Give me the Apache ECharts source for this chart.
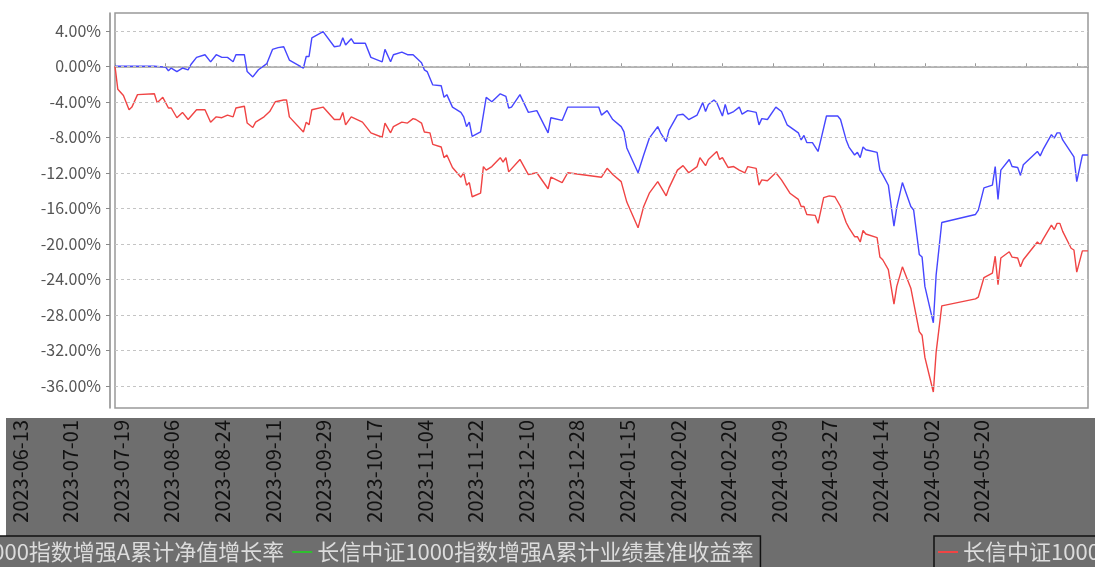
<!DOCTYPE html>
<html><head><meta charset="utf-8">
<script src="https://cdn.jsdelivr.net/npm/echarts@6/dist/echarts.min.js"></script>
<style>html,body{margin:0;padding:0;background:#fff}#c{width:1095px;height:567px}</style>
</head><body><div id="c"></div>
<script>
// ---- data ----
const startDate = [2023, 5, 13]; // 2023-06-13
const dayCount = 347;             // through 2024-05-24
const yTicks = [4, 0, -4, -8, -12, -16, -20, -24, -28, -32, -36];
const fundName = '长信中证1000指数增强A累计净值增长率';
const benchName = '长信中证1000指数增强A累计业绩基准收益率';
// [day offset from start, cumulative %]
const fundPoints = [[0,0],[14,0],[18,-0.1],[19,-0.5],[20,-0.2],[22,-0.6],[24,-0.2],[26,-0.4],[27,0.2],[29,1.0],[32,1.3],[34,0.5],[36,1.3],[38,1.0],[40,1.0],[42,0.5],[43,1.3],[46,1.3],[47,-0.6],[49,-1.2],[51,-0.4],[54,0.3],[56,1.9],[58,2.1],[60,2.2],[62,0.7],[67,-0.2],[68,1.1],[69,1.1],[70,3.2],[74,3.9],[78,2.2],[80,2.3],[81,3.2],[82,2.4],[84,3.1],[85,2.6],[89,2.6],[91,1.0],[95,0.5],[96,1.9],[98,0.5],[99,1.3],[102,1.6],[104,1.3],[106,1.3],[109,0.4],[110,-0.4],[111,-0.6],[113,-2.1],[116,-2.2],[117,-3.5],[118,-3.2],[120,-4.6],[123,-5.2],[124,-5.7],[125,-6.8],[126,-6.3],[127,-7.9],[130,-7.4],[132,-3.5],[134,-4.0],[137,-3.1],[139,-3.4],[140,-4.7],[141,-4.6],[144,-3.2],[147,-5.2],[150,-5.0],[154,-7.5],[155,-5.8],[159,-6.1],[161,-4.6],[172,-4.6],[173,-5.5],[175,-5.0],[177,-6.0],[180,-6.8],[181,-7.4],[182,-9.2],[186,-12.0],[188,-10.0],[190,-8.1],[193,-6.8],[194,-7.5],[196,-8.5],[197,-7.2],[200,-5.5],[202,-5.4],[204,-6.0],[207,-5.5],[209,-4.1],[210,-5.1],[211,-4.3],[213,-3.8],[214,-4.1],[216,-5.6],[217,-4.3],[218,-5.4],[220,-5.1],[222,-4.6],[223,-5.4],[225,-5.0],[228,-5.2],[229,-6.6],[230,-5.9],[232,-6.0],[235,-4.6],[237,-5.1],[239,-6.6],[243,-7.5],[244,-8.3],[245,-7.8],[246,-8.6],[248,-8.6],[250,-9.6],[251,-8.3],[253,-5.6],[257,-5.6],[258,-6.0],[260,-8.3],[261,-9.1],[263,-10.0],[264,-9.7],[265,-10.3],[266,-9.1],[267,-9.4],[271,-9.7],[272,-11.7],[273,-12.2],[275,-13.4],[277,-18.0],[278,-15.9],[280,-13.1],[283,-15.8],[284,-16.2],[286,-21.2],[287,-21.5],[288,-24.8],[291,-28.9],[292,-23.5],[294,-17.6],[306,-16.7],[307,-16.2],[309,-13.7],[312,-13.4],[313,-11.3],[314,-15.0],[315,-11.7],[318,-10.5],[319,-11.3],[321,-11.4],[322,-12.3],[323,-11.1],[328,-9.6],[329,-10.1],[330,-9.4],[333,-7.7],[334,-8.1],[335,-7.5],[336,-7.5],[337,-8.3],[341,-10.2],[342,-13.0],[344,-10.0],[346,-10.0]];
const benchPoints = [[0,0],[1,-2.6],[3,-3.3],[5,-4.9],[6,-4.6],[8,-3.2],[14,-3.1],[15,-4.1],[17,-3.5],[19,-4.7],[20,-4.7],[22,-5.8],[24,-5.2],[26,-6.0],[29,-4.9],[32,-4.9],[34,-6.3],[36,-5.7],[38,-5.8],[40,-5.5],[42,-5.7],[43,-4.7],[46,-4.5],[47,-6.4],[49,-6.9],[50,-6.3],[53,-5.7],[55,-5.1],[57,-4.0],[60,-3.8],[61,-3.8],[62,-5.7],[67,-7.4],[68,-6.3],[69,-6.6],[70,-4.9],[74,-4.6],[78,-6.0],[80,-6.0],[81,-5.2],[82,-6.6],[84,-5.7],[88,-6.3],[91,-7.5],[95,-8.0],[96,-6.4],[98,-7.5],[99,-6.8],[102,-6.3],[104,-6.4],[106,-5.9],[107,-6.0],[109,-6.4],[110,-7.4],[112,-7.5],[113,-8.8],[116,-9.1],[117,-10.3],[118,-10.0],[120,-11.4],[123,-12.5],[124,-12.0],[125,-13.4],[126,-13.1],[127,-14.7],[130,-14.3],[131,-11.3],[132,-11.7],[134,-11.3],[137,-10.3],[138,-10.8],[139,-10.3],[140,-11.9],[144,-10.5],[147,-12.2],[150,-12.0],[154,-13.8],[155,-12.5],[159,-13.1],[161,-12.0],[173,-12.5],[175,-11.5],[177,-12.2],[180,-13.0],[182,-15.3],[186,-18.2],[188,-15.8],[190,-14.3],[193,-13.0],[196,-14.6],[197,-13.7],[200,-11.7],[202,-11.2],[204,-12.0],[207,-11.3],[208,-10.3],[210,-11.2],[211,-10.5],[214,-9.6],[215,-10.5],[216,-10.3],[218,-11.4],[220,-11.3],[222,-11.7],[224,-12.0],[225,-11.3],[228,-11.5],[229,-13.4],[230,-12.8],[232,-12.9],[235,-12.0],[237,-12.8],[240,-14.3],[243,-15.0],[244,-15.8],[245,-15.8],[246,-16.7],[249,-16.8],[250,-17.7],[252,-14.8],[254,-14.6],[256,-14.7],[258,-15.8],[260,-17.6],[261,-18.2],[263,-19.2],[264,-19.2],[265,-19.8],[266,-18.5],[267,-18.9],[271,-19.3],[272,-21.5],[273,-21.8],[275,-22.9],[277,-26.8],[278,-24.8],[280,-22.6],[283,-25.0],[286,-29.9],[287,-30.3],[288,-32.8],[291,-36.7],[292,-32.2],[294,-27.0],[306,-26.2],[307,-26.0],[309,-23.8],[312,-23.3],[313,-21.4],[314,-24.6],[315,-21.6],[318,-20.9],[319,-21.5],[321,-21.6],[322,-22.6],[323,-21.8],[328,-19.8],[329,-20.1],[330,-19.5],[333,-17.9],[334,-18.4],[335,-17.7],[336,-17.7],[337,-18.6],[340,-20.5],[341,-20.7],[342,-23.2],[344,-20.8],[346,-20.8]];

// ---- build ----
const dates = [];
const t0 = Date.UTC(startDate[0], startDate[1], startDate[2]);
for (let i = 0; i < dayCount; i++) dates.push(new Date(t0 + i * 86400000).toISOString().slice(0, 10));
const toSeries = pts => pts.map(p => [dates[p[0]], p[1]]);

const chart = echarts.init(document.getElementById('c'), null, {renderer: 'canvas'});
const GRAY = '#6e6e6e';
const CJK = '"Noto Sans CJK SC", "Noto Sans", sans-serif';
chart.setOption({
  animation: false,
  backgroundColor: '#fff',
  graphic: [{type: 'rect', z: -10, shape: {x: 6, y: 418, width: 1089, height: 149}, style: {fill: GRAY}, silent: true}],
  grid: [
    {left: 115, right: 7, top: 13, bottom: 159, show: true, borderColor: '#999', borderWidth: 1.5},
    {left: 20, right: 102, top: 13, bottom: 159, show: false}
  ],
  legend: [
    {left: -138, top: 536, padding: [5, 7, 5, 5], itemGap: 8, itemWidth: 20, itemHeight: 2, icon: 'rect',
     backgroundColor: GRAY, borderColor: '#111', borderWidth: 1.5,
     textStyle: {color: '#dcdcdc', fontSize: 22, fontFamily: CJK},
     data: [{name: fundName}, {name: benchName, itemStyle: {color: '#2fbf2f'}}]},
    {left: 934, top: 536, padding: [5, 5, 5, 4], itemWidth: 20, itemHeight: 2, icon: 'rect',
     backgroundColor: GRAY, borderColor: '#111', borderWidth: 1.5,
     textStyle: {color: '#dcdcdc', fontSize: 22, fontFamily: CJK},
     data: [{name: benchName}]}
  ],
  xAxis: [
    {type: 'category', gridIndex: 0, data: dates, boundaryGap: false, offset: 7,
     axisLine: {lineStyle: {color: '#999', width: 1.5}},
     axisTick: {inside: true, length: 3, interval: 17, lineStyle: {color: '#999'}},
     axisLabel: {show: false}, splitLine: {show: false}},
    {type: 'category', gridIndex: 1, data: dates, boundaryGap: false, offset: 7,
     axisLine: {show: false}, axisTick: {show: false},
     axisLabel: {interval: 17, rotate: 90, margin: 5, color: '#111', fontSize: 20, fontFamily: CJK},
     splitLine: {show: false}}
  ],
  yAxis: [
    {type: 'value', gridIndex: 0, min: -38.5, max: 6, offset: 5,
     axisLine: {show: true, lineStyle: {color: '#888', width: 1.5}},
     axisTick: {show: true, length: 4, customValues: yTicks, lineStyle: {color: '#888'}},
     axisLabel: {customValues: yTicks, margin: 9, color: '#555', fontSize: 16, fontFamily: CJK,
       formatter: v => v.toFixed(2) + '%'},
     splitLine: {show: false}},
    {type: 'value', gridIndex: 1, min: -38.5, max: 6, show: false}
  ],
  series: [
    {name: fundName, type: 'line', xAxisIndex: 0, yAxisIndex: 0, data: toSeries(fundPoints),
     showSymbol: false, symbol: 'none', color: '#4646ff', lineStyle: {width: 1.4, color: '#4646ff'},
     markLine: {silent: true, symbol: 'none', label: {show: false},
       lineStyle: {type: [3, 3], color: '#c4c4c4', width: 1},
       data: yTicks.map(v => ({yAxis: v}))}},
    {name: benchName, type: 'line', xAxisIndex: 0, yAxisIndex: 0, data: toSeries(benchPoints),
     showSymbol: false, symbol: 'none', color: '#f04444', lineStyle: {width: 1.4, color: '#f04444'}}
  ]
});
</script></body></html>
